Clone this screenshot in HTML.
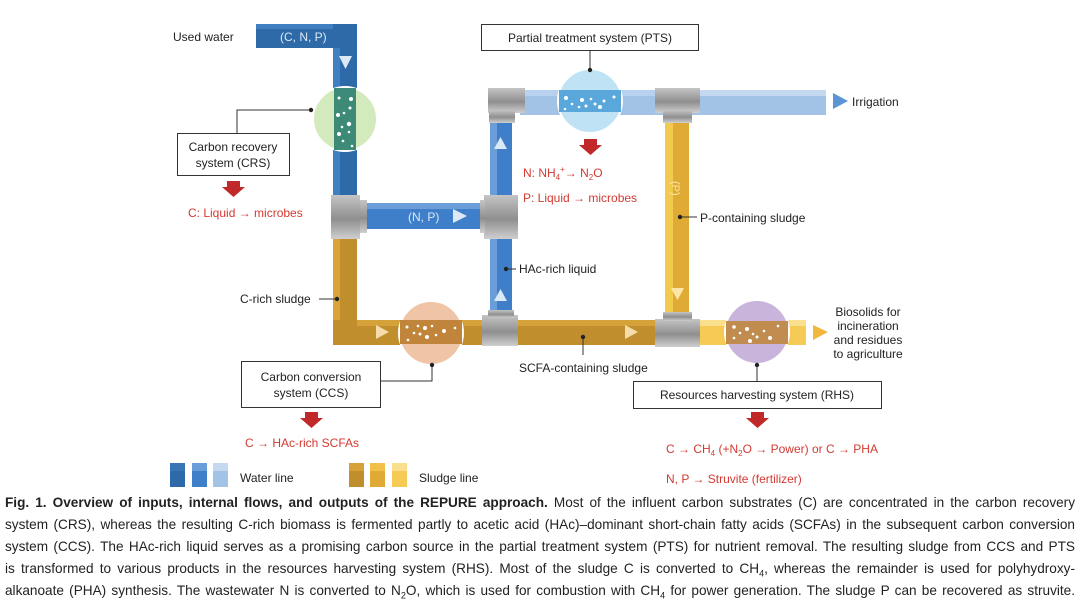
<!DOCTYPE html>
<html><head><meta charset="utf-8"><style>
body{margin:0;background:#fff;width:1080px;height:603px;overflow:hidden;font-family:"Liberation Sans",sans-serif}
svg{position:absolute;left:0;top:0}
.cap{position:absolute;left:5px;width:1070px;font-size:13.6px;color:#222;line-height:22px;top:492px}
.cap div{text-align:justify;text-align-last:justify;white-space:nowrap;height:22px}
</style></head><body>
<svg width="1080" height="603" viewBox="0 0 1080 603" font-family="Liberation Sans, sans-serif">
<defs>
<linearGradient id="g" x1="0" y1="0" x2="0" y2="1"><stop offset="0" stop-color="#c4c4c4"/><stop offset="0.55" stop-color="#8f8f8f"/><stop offset="1" stop-color="#cfcfcf"/></linearGradient>
</defs>
<rect x="256" y="24" width="101" height="24" fill="#2e6aa8"/>
<rect x="256" y="24" width="101" height="5" fill="#3f7fc2"/>
<rect x="333" y="24" width="24" height="175" fill="#2e6aa8"/>
<rect x="333" y="48" width="7" height="150" fill="#3f7fc2"/>
<text x="280" y="41" fill="#dbe8f6" font-size="12">(C, N, P)</text>
<polygon points="339,56 352,56 345.5,69" fill="#dbe8f6"/>
<circle cx="345" cy="119" r="32" fill="#d3eabd" stroke="#fff" stroke-width="2"/>
<rect x="334" y="88" width="22" height="62" fill="#3d8a78"/>
<g fill="#fff"><circle cx="339" cy="98" r="1.5"/><circle cx="351" cy="99" r="2"/><circle cx="350" cy="108" r="1.5"/><circle cx="338" cy="115" r="2"/><circle cx="344" cy="113" r="1.3"/><circle cx="349" cy="124" r="2.2"/><circle cx="342" cy="127" r="1.3"/><circle cx="339" cy="134" r="2"/><circle cx="349" cy="132" r="1.3"/><circle cx="343" cy="141" r="1.3"/><circle cx="352" cy="146" r="1.3"/></g>
<rect x="360" y="203" width="124" height="26" fill="#3f7fc9"/>
<rect x="360" y="203" width="124" height="6" fill="#6b9dd8"/>
<text x="408" y="221" fill="#dbe8f6" font-size="12">(N, P)</text>
<polygon points="453,209 453,223 467,216" fill="#dbe8f6"/>
<rect x="490" y="120" width="22" height="200" fill="#3f7fc9"/>
<rect x="490" y="120" width="7" height="200" fill="#6b9dd8"/>
<polygon points="494,149 507,149 500.5,137" fill="#dbe8f6"/>
<polygon points="494,301 507,301 500.5,289" fill="#dbe8f6"/>
<rect x="520" y="90" width="306" height="25" fill="#a3c3e6"/>
<rect x="700" y="90" width="126" height="6" fill="#c4d9f0"/>
<rect x="520" y="90" width="180" height="6" fill="#b8d1ee"/>
<circle cx="590" cy="101" r="32" fill="#bfe3f5" stroke="#fff" stroke-width="2"/>
<rect x="559" y="90" width="62" height="22" fill="#5aa7dc"/>
<g fill="#fff"><circle cx="566" cy="98" r="2"/><circle cx="572" cy="104" r="1.3"/><circle cx="582" cy="100" r="2"/><circle cx="586" cy="106" r="1.5"/><circle cx="591" cy="99" r="1.3"/><circle cx="595" cy="104" r="1.5"/><circle cx="600" cy="107" r="2"/><circle cx="604" cy="101" r="1.5"/><circle cx="614" cy="97" r="1.5"/><circle cx="565" cy="109" r="1.3"/><circle cx="579" cy="107" r="1.3"/></g>
<polygon points="833,93 833,109 848,101" fill="#5a95d5"/>
<text x="852" y="106" font-size="12" fill="#222">Irrigation</text>
<rect x="665" y="120" width="24" height="200" fill="#e0ab35"/>
<rect x="665" y="120" width="8" height="200" fill="#f4c94f"/>
<text x="0" y="0" font-size="11" fill="#fbe6a8" transform="translate(672,181) rotate(90)">(P)</text>
<polygon points="671,288 684,288 677.5,300" fill="#fbe6a8"/>
<rect x="333" y="236" width="24" height="109" fill="#c08e2c"/>
<rect x="333" y="236" width="7" height="109" fill="#d9a53a"/>
<rect x="333" y="320" width="335" height="25" fill="#c08e2c"/>
<rect x="357" y="320" width="311" height="6" fill="#d5a23a"/>
<polygon points="376,325 376,339 389,332" fill="#f5dcaa"/>
<polygon points="625,325 625,339 638,332" fill="#f5dcaa"/>
<rect x="690" y="320" width="116" height="25" fill="#f6cb55"/>
<rect x="690" y="320" width="116" height="6" fill="#fadf8e"/>
<polygon points="813,325 813,340 828,332" fill="#f2b73e"/>
<circle cx="431" cy="333" r="32" fill="#f0c4a6" stroke="#fff" stroke-width="2"/>
<rect x="400" y="320" width="62" height="24" fill="#c0853a"/>
<g fill="#fff"><circle cx="407" cy="327" r="1.5"/><circle cx="418" cy="326" r="1.3"/><circle cx="425" cy="328" r="2"/><circle cx="432" cy="326" r="1.3"/><circle cx="444" cy="331" r="2"/><circle cx="455" cy="328" r="1.3"/><circle cx="414" cy="333" r="1.3"/><circle cx="420" cy="334" r="1.5"/><circle cx="427" cy="337" r="2"/><circle cx="436" cy="335" r="1.3"/><circle cx="408" cy="340" r="1.3"/></g>
<circle cx="757" cy="332" r="32" fill="#c9b4db" stroke="#fff" stroke-width="2"/>
<rect x="726" y="321" width="62" height="23" fill="#c18c50"/>
<g fill="#fff"><circle cx="734" cy="327" r="1.8"/><circle cx="740" cy="333" r="1.3"/><circle cx="747" cy="329" r="2"/><circle cx="753" cy="334" r="1.3"/><circle cx="757" cy="337" r="1.5"/><circle cx="764" cy="331" r="1.3"/><circle cx="770" cy="338" r="2"/><circle cx="778" cy="326" r="1.3"/><circle cx="734" cy="338" r="1.3"/><circle cx="750" cy="341" r="2"/></g>
<rect x="331" y="195" width="29" height="44" fill="url(#g)"/><rect x="360" y="200" width="7" height="33" fill="url(#g)"/>
<rect x="484" y="195" width="34" height="44" fill="url(#g)"/><rect x="480" y="200" width="5" height="33" fill="url(#g)"/>
<rect x="488" y="88" width="37" height="25" fill="url(#g)"/><rect x="489" y="110" width="26" height="13" fill="url(#g)"/>
<rect x="655" y="88" width="45" height="25" fill="url(#g)"/><rect x="663" y="110" width="29" height="13" fill="url(#g)"/>
<rect x="482" y="315" width="36" height="31" fill="url(#g)"/><rect x="488" y="310" width="26" height="8" fill="url(#g)"/>
<rect x="655" y="319" width="45" height="28" fill="url(#g)"/><rect x="663" y="312" width="29" height="9" fill="url(#g)"/>
<g fill="#fff" stroke="#333" stroke-width="1"><rect x="481.5" y="24.5" width="217" height="26"/><rect x="177.5" y="133.5" width="112" height="42"/><rect x="241.5" y="361.5" width="139" height="46"/><rect x="633.5" y="381.5" width="248" height="27"/></g>
<g stroke="#333" stroke-width="1" fill="none">
<polyline points="590,51 590,70"/><polyline points="311,110 237,110 237,133"/><polyline points="432,365 432,381 381,381"/><polyline points="757,365 757,381"/>
<polyline points="319,299 337,299"/><polyline points="516,269 506,269"/><polyline points="697,217 680,217"/><polyline points="583,337 583,355"/>
</g>
<g fill="#222"><circle cx="311" cy="110" r="2.2"/><circle cx="590" cy="70" r="2.2"/><circle cx="432" cy="365" r="2.2"/><circle cx="757" cy="365" r="2.2"/><circle cx="337" cy="299" r="2.2"/><circle cx="506" cy="269" r="2.2"/><circle cx="680" cy="217" r="2.2"/><circle cx="583" cy="337" r="2.2"/></g>
<g font-size="12" fill="#222">
<text x="173" y="41">Used water</text>
<text x="590" y="42" text-anchor="middle">Partial treatment system (PTS)</text>
<text x="233" y="151" text-anchor="middle">Carbon recovery</text><text x="233" y="167" text-anchor="middle">system (CRS)</text>
<text x="311" y="381" text-anchor="middle">Carbon conversion</text><text x="311" y="397" text-anchor="middle">system (CCS)</text>
<text x="757" y="399" text-anchor="middle">Resources harvesting system (RHS)</text>
<text x="240" y="303">C-rich sludge</text>
<text x="519" y="273">HAc-rich liquid</text>
<text x="700" y="222">P-containing sludge</text>
<text x="519" y="372">SCFA-containing sludge</text>
<g text-anchor="middle"><text x="868" y="316">Biosolids for</text><text x="868" y="330">incineration</text><text x="868" y="344">and residues</text><text x="868" y="358">to agriculture</text></g>
<text x="240" y="482">Water line</text><text x="419" y="482">Sludge line</text>
</g>
<g font-size="12" fill="#d23a32">
<text x="188" y="217">C: Liquid → microbes</text>
<text x="523" y="177">N: NH<tspan font-size="8" dy="3">4</tspan><tspan font-size="8" dy="-8">+</tspan><tspan dy="5">→ N</tspan><tspan font-size="8" dy="3">2</tspan><tspan dy="-3">O</tspan></text>
<text x="523" y="202">P: Liquid → microbes</text>
<text x="245" y="447">C → HAc-rich SCFAs</text>
<text x="666" y="453">C → CH<tspan font-size="8" dy="3">4</tspan><tspan dy="-3"> (+N</tspan><tspan font-size="8" dy="3">2</tspan><tspan dy="-3">O → Power) or C → PHA</tspan></text>
<text x="666" y="483">N, P → Struvite (fertilizer)</text>
</g>
<g fill="#c0282a">
<polygon points="227,181 240,181 240,187 245,187 233.5,197 222,187 227,187"/>
<polygon points="584,139 597,139 597,145 602,145 590.5,155 579,145 584,145"/>
<polygon points="305,412 318,412 318,418 323,418 311.5,428 300,418 305,418"/>
<polygon points="751,412 764,412 764,418 769,418 757.5,428 746,418 751,418"/>
</g>
<rect x="170" y="463" width="15" height="24" fill="#2e6aa8"/><rect x="170" y="463" width="15" height="8" fill="#3a76b6"/>
<rect x="192" y="463" width="15" height="24" fill="#3f7fc9"/><rect x="192" y="463" width="15" height="8" fill="#6b9dd8"/>
<rect x="213" y="463" width="15" height="24" fill="#a3c3e6"/><rect x="213" y="463" width="15" height="8" fill="#c4d9f0"/>
<rect x="349" y="463" width="15" height="24" fill="#c08e2c"/><rect x="349" y="463" width="15" height="8" fill="#d5a23a"/>
<rect x="370" y="463" width="15" height="24" fill="#e0ab35"/><rect x="370" y="463" width="15" height="8" fill="#f0c048"/>
<rect x="392" y="463" width="15" height="24" fill="#f6cb55"/><rect x="392" y="463" width="15" height="8" fill="#fadf8e"/>
</svg>
<div class="cap">
<div><b>Fig. 1. Overview of inputs, internal flows, and outputs of the REPURE approach.</b> Most of the influent carbon substrates (C) are concentrated in the carbon recovery</div>
<div>system (CRS), whereas the resulting C-rich biomass is fermented partly to acetic acid (HAc)–dominant short-chain fatty acids (SCFAs) in the subsequent carbon conversion</div>
<div>system (CCS). The HAc-rich liquid serves as a promising carbon source in the partial treatment system (PTS) for nutrient removal. The resulting sludge from CCS and PTS</div>
<div>is transformed to various products in the resources harvesting system (RHS). Most of the sludge C is converted to CH<sub style="font-size:9px">4</sub>, whereas the remainder is used for polyhydroxy-</div>
<div>alkanoate (PHA) synthesis. The wastewater N is converted to N<sub style="font-size:9px">2</sub>O, which is used for combustion with CH<sub style="font-size:9px">4</sub> for power generation. The sludge P can be recovered as struvite.</div>
</div>
</body></html>
